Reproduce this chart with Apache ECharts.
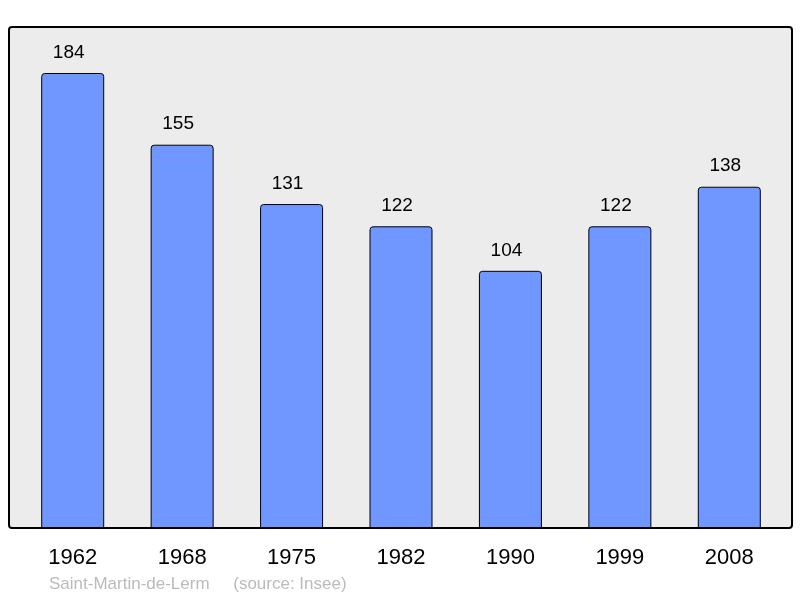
<!DOCTYPE html>
<html><head><meta charset="utf-8">
<script src="https://cdn.jsdelivr.net/npm/echarts@6/dist/echarts.min.js"></script>
<style>html,body{margin:0;padding:0;background:#fff}#c{width:800px;height:598px}</style>
</head><body><div id="c"></div>
<script>
var categories = ['1962','1968','1975','1982','1990','1999','2008'];
var values = [184,155,131,122,104,122,138];
var chart = echarts.init(document.getElementById('c'));
chart.setOption({
  animation:false,
  graphic:[
    {type:'rect',z:-10,shape:{x:9,y:27,width:783,height:501,r:3},style:{fill:'#ececec',stroke:'#000',lineWidth:2}},
    {type:'text',left:49,top:576,style:{text:'Saint-Martin-de-Lerm     (source: Insee)',fill:'#bbbbbb',font:'17px "Liberation Sans", Arial, sans-serif'}}
  ],
  grid:{left:18,right:16,top:27,bottom:70},
  xAxis:{type:'category',data:categories,axisLine:{show:false},axisTick:{show:false},
    axisLabel:{color:'#000',fontSize:22,fontFamily:'Liberation Sans',margin:19}},
  yAxis:{type:'value',min:0,max:202.6,show:false,splitLine:{show:false}},
  series:[{type:'bar',data:values,barWidth:63,
    itemStyle:{color:'#7096ff',borderColor:'#000',borderWidth:1,borderRadius:[3,3,0,0]},
    label:{show:true,position:'top',distance:11,offset:[-4,0],color:'#000',fontSize:19,fontFamily:'Liberation Sans'}}]
});
</script></body></html>
